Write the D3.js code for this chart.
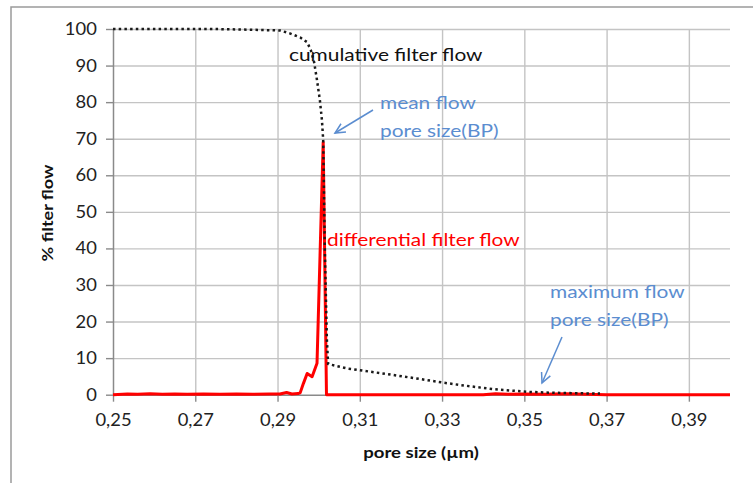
<!DOCTYPE html>
<html>
<head>
<meta charset="utf-8">
<script src="https://cdn.jsdelivr.net/npm/d3@7"></script>
<style>
    body { margin: 0; background: #fff; }
    text { font-family: Lato, "Open Sans", sans-serif; }
</style>
</head>
<body>
<div id="graph"></div>
<script>
// cumulative filter flow (black dotted)
const cumSize = [0.250, 0.2748, 0.2833, 0.2906, 0.2930, 0.2955, 0.2972, 0.2981, 0.2989, 0.2996,
    0.3003, 0.3008, 0.3011, 0.3015, 0.3020, 0.3023, 0.3068, 0.3100, 0.3181, 0.3263,
    0.3303, 0.3344, 0.3425, 0.3506, 0.3562, 0.3627, 0.3684];
const cumFlow = [100, 100, 99.8, 99.6, 98.8, 97.7, 96.4, 94.2, 90.9, 86.0,
    80.5, 75.0, 69.6, 39.5, 15.0, 8.4, 7.2, 6.7, 5.4, 4.0,
    3.3, 2.65, 1.5, 0.8, 0.55, 0.4, 0.3];

// differential filter flow (red)
const diffSize = [0.250, 0.2535, 0.2560, 0.2590, 0.2620, 0.2650, 0.2680, 0.2720, 0.2760, 0.2800,
    0.2840, 0.2880, 0.2906, 0.2922, 0.2935, 0.2950, 0.2955, 0.2963, 0.2972, 0.2984,
    0.2996, 0.3011, 0.3019, 0.3100, 0.3400, 0.3430, 0.3460, 0.3500, 0.3550, 0.3600,
    0.3650, 0.3700, 0.4000];
const diffFlow = [0, 0.2, 0.1, 0.25, 0.1, 0.2, 0.1, 0.2, 0.1, 0.2,
    0.1, 0.2, 0.2, 0.6, 0.2, 0.3, 0.5, 3.1, 5.8, 4.9,
    8.6, 69.0, 0, 0, 0, 0.25, 0.1, 0.2, 0.1, 0.25,
    0.1, 0, 0];

const xTicks = [0.25, 0.27, 0.29, 0.31, 0.33, 0.35, 0.37, 0.39];
const yTicks = [0, 10, 20, 30, 40, 50, 60, 70, 80, 90, 100];

const width = 753, height = 483;
const plotLeft = 113, plotRight = 730, plotTop = 29, plotBottom = 394.7;
const stretch = 1.16;   // source font is drawn wider than Lato

const svg = d3.select("#graph")
    .append("svg")
    .attr("width", width)
    .attr("height", height);

// outer chart frame (only top and left edges are visible)
svg.append("path")
    .attr("d", "M11," + height + "V7H" + width)
    .attr("fill", "none")
    .attr("stroke", "#9a9a9a")
    .attr("stroke-width", 1.5);

const xScale = d3.scaleLinear().domain([0.25, 0.40]).range([plotLeft, plotRight]);
const yScale = d3.scaleLinear().domain([0, 100]).range([plotBottom, plotTop]);

// gridlines
svg.append("g")
    .attr("transform", "translate(0," + plotBottom + ")")
    .call(d3.axisBottom(xScale).tickValues(xTicks.slice(1)).tickSize(-(plotBottom - plotTop)).tickFormat(""))
    .call(g => g.select(".domain").remove())
    .selectAll("line").attr("stroke", "#c4c4c4").attr("stroke-width", 1.4);
svg.append("g")
    .attr("transform", "translate(" + plotLeft + ",0)")
    .call(d3.axisLeft(yScale).tickValues(yTicks.slice(1)).tickSize(-(plotRight - plotLeft)).tickFormat(""))
    .call(g => g.select(".domain").remove())
    .selectAll("line").attr("stroke", "#c4c4c4").attr("stroke-width", 1.4);

const fmt = d => d3.format(".2f")(d).replace(".", ",");

// x axis
const xAxis = svg.append("g")
    .attr("class", "xAxis")
    .attr("transform", "translate(0," + plotBottom + ")")
    .call(d3.axisBottom(xScale).tickValues(xTicks).tickSizeInner(7).tickSizeOuter(0).tickPadding(12).tickFormat(fmt));
xAxis.select(".domain").attr("stroke", "#8a8a8a").attr("stroke-width", 1.5).attr("d", "M" + plotLeft + ",0.5H" + plotRight);
xAxis.selectAll("line").attr("stroke", "#8a8a8a").attr("stroke-width", 1.4);
xAxis.selectAll("text").attr("font-size", 17).attr("fill", "#222").attr("transform", "scale(1.08,1)");

// y axis
const yAxis = svg.append("g")
    .attr("class", "yAxis")
    .attr("transform", "translate(" + plotLeft + ",0)")
    .call(d3.axisLeft(yScale).tickValues(yTicks).tickSizeInner(7).tickSizeOuter(0).tickPadding(8));
yAxis.select(".domain").attr("stroke", "#8a8a8a").attr("stroke-width", 1.5);
yAxis.selectAll("line").attr("stroke", "#8a8a8a").attr("stroke-width", 1.4);
yAxis.selectAll("text").attr("font-size", 17).attr("fill", "#222").attr("transform", "scale(1.08,1)");

// axis titles
svg.append("text")
    .attr("transform", "translate(53,213) rotate(-90) scale(" + stretch + ",1)")
    .attr("text-anchor", "middle")
    .attr("font-size", 15.5)
    .attr("font-weight", "bold")
    .attr("fill", "#111")
    .text("% filter flow");
svg.append("text")
    .attr("transform", "translate(421,458) scale(" + stretch + ",1)")
    .attr("text-anchor", "middle")
    .attr("font-size", 16)
    .attr("font-weight", "bold")
    .attr("fill", "#111")
    .text("pore size (µm)");

const line = d3.line()
    .x(d => xScale(d[0]))
    .y(d => yScale(d[1]));

// differential filter flow
svg.append("path")
    .datum(diffSize.map((s, i) => [s, diffFlow[i]]))
    .attr("d", line)
    .attr("fill", "none")
    .attr("stroke", "#ff0000")
    .attr("stroke-width", 3)
    .attr("stroke-linejoin", "round");

// cumulative filter flow
svg.append("path")
    .datum(cumSize.map((s, i) => [s, cumFlow[i]]))
    .attr("d", line)
    .attr("fill", "none")
    .attr("stroke", "#1a1a1a")
    .attr("stroke-width", 2.5)
    .attr("stroke-dasharray", "2.5,3.2");

// annotations
const addText = (x, y, txt, color) => {
    svg.append("text")
        .attr("transform", "translate(" + x + "," + y + ") scale(" + stretch + ",1)")
        .attr("font-size", 18)
        .attr("fill", color)
        .text(txt);
};
const blue = "#5b8dd0";
addText(289, 61, "cumulative filter flow", "#111");
addText(327, 246, "differential filter flow", "#ff0000");
addText(380, 109, "mean flow", blue);
addText(380, 137, "pore size(BP)", blue);
addText(550, 298, "maximum flow", blue);
addText(550, 326, "pore size(BP)", blue);

// arrows
const arrow = (x1, y1, x2, y2) => {
    svg.append("line")
        .attr("x1", x1).attr("y1", y1)
        .attr("x2", x2).attr("y2", y2)
        .attr("stroke", blue)
        .attr("stroke-width", 1.5);
    const a = Math.atan2(y2 - y1, x2 - x1), l = 11, w = 0.45;
    svg.append("path")
        .attr("d", "M" + (x2 - l * Math.cos(a - w)) + "," + (y2 - l * Math.sin(a - w)) +
            "L" + x2 + "," + y2 +
            "L" + (x2 - l * Math.cos(a + w)) + "," + (y2 - l * Math.sin(a + w)))
        .attr("fill", "none")
        .attr("stroke", blue)
        .attr("stroke-width", 1.5);
};
arrow(373, 110, 335, 133);
arrow(562, 337, 542, 383);
</script>
</body>
</html>
